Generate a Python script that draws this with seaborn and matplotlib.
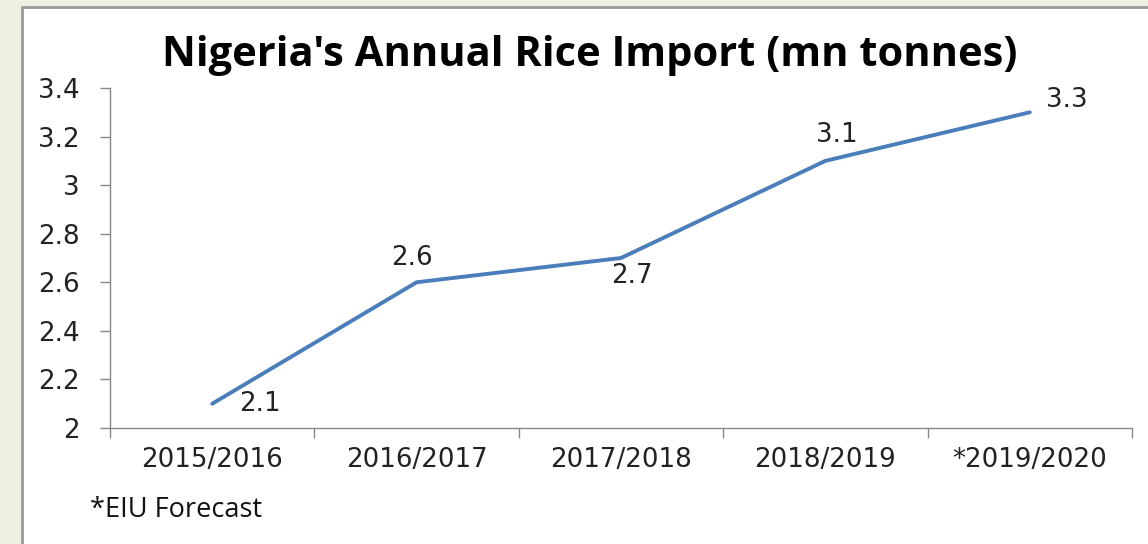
import matplotlib
matplotlib.use("Agg")
import matplotlib.pyplot as plt
import seaborn as sns
import pandas as pd
from matplotlib.patches import Rectangle

years = ["2015/2016", "2016/2017", "2017/2018", "2018/2019", "*2019/2020"]
imports = [2.1, 2.6, 2.7, 3.1, 3.3]
yticks = [2, 2.2, 2.4, 2.6, 2.8, 3, 3.2, 3.4]
ytick_labels = ["2", "2.2", "2.4", "2.6", "2.8", "3", "3.2", "3.4"]
title = "Nigeria's Annual Rice Import (mn tonnes)"
note = "*EIU Forecast"

sns.set_theme(style="white")
plt.rcParams["font.family"] = ["DejaVu Sans"]
plt.rcParams["font.sans-serif"] = ["DejaVu Sans"]

df = pd.DataFrame({"year": years, "value": imports})
df["pos"] = range(len(years))

fig = plt.figure(figsize=(11.48, 5.44), dpi=100, facecolor="#eef1e2")
# white chart box with gray border
fig.patches.append(Rectangle((22 / 1148, -0.05), 1.1, 1 - 7 / 544 + 0.05,
                             transform=fig.transFigure, facecolor="white",
                             edgecolor="#9a9a9a", linewidth=2.0, zorder=-5))

ax = fig.add_axes([110 / 1148, 1 - 428 / 544, (1132 - 110) / 1148, (428 - 88) / 544])
ax.set_zorder(3)
ax.patch.set_alpha(0)

sns.lineplot(data=df, x="pos", y="value", ax=ax, color="#4a7ebb", linewidth=2.8,
             marker=None, legend=False)

fs = 18.8
tick_font = dict(fontsize=fs, color="#222222", family="DejaVu Sans")
ax.set_xlim(-0.5, len(years) - 0.5)
ax.set_ylim(2, 3.4)
ax.set_yticks(yticks)
ax.set_yticklabels(ytick_labels, **tick_font)
ax.set_xticks(range(len(years)))
ax.set_xticklabels(years, **tick_font)
ax.tick_params(axis="x", which="major", length=0, pad=14)
ax.set_xticks([i - 0.5 for i in range(len(years) + 1)], minor=True)
ax.tick_params(axis="x", which="minor", length=7, width=1, color="#888888", direction="out")
ax.tick_params(axis="y", length=7, width=1, color="#888888", direction="out", pad=15)
ax.xaxis.set_tick_params(bottom=True, which="both")
ax.yaxis.set_tick_params(left=True)
for s in ["top", "right"]:
    ax.spines[s].set_visible(False)
for s in ["left", "bottom"]:
    ax.spines[s].set_color("#888888")
    ax.spines[s].set_linewidth(1)
ax.set_xlabel("")
ax.set_ylabel("")

# data labels
offsets = [(0.235, 0.0), (-0.025, 0.1), (0.055, -0.075), (0.055, 0.105), (0.18, 0.05)]
for i, (v, (dx, dy)) in enumerate(zip(imports, offsets)):
    ax.text(i + dx, v + dy, f"{v:g}", ha="center", va="center", **tick_font)

fig.text(0.514, 1 - 55 / 544, title, fontsize=30, fontweight="bold",
         family="Open Sans", ha="center", va="center", color="#000000")
fig.text(90 / 1148, 1 - 510 / 544, note, fontsize=19.5, family="Open Sans",
         ha="left", va="center", color="#111111")

fig.savefig("out.png", dpi=100, facecolor=fig.get_facecolor())
